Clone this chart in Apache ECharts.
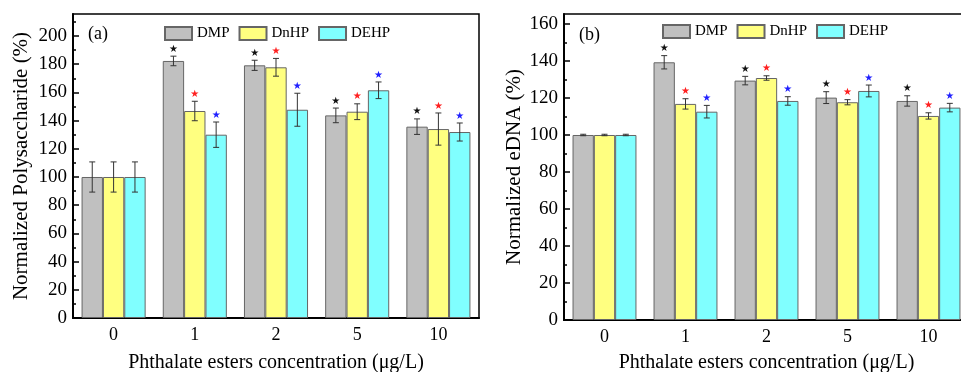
<!DOCTYPE html>
<html>
<head>
<meta charset="utf-8">
<script src="https://cdn.jsdelivr.net/npm/echarts@6/dist/echarts.min.js"></script>
<style>
  html, body { margin: 0; padding: 0; background: #fff; }
  #chart { width: 961px; height: 372px; }
</style>
</head>
<body>
<div id="chart"></div>
<script>
// concentration groups and series
const concentrations = ['0', '1', '2', '5', '10'];
const seriesNames = ['DMP', 'DnHP', 'DEHP'];

// (a) normalized polysaccharide (%)
const polyDMP = [100, 182.3, 179.2, 143.7, 135.7];
const polyDnHP = [100, 146.8, 177.8, 146.3, 134.0];
const polyDEHP = [100, 130.0, 147.7, 161.5, 131.9];
const polyDMPErr = [10.7, 3.4, 3.6, 5.2, 5.5];
const polyDnHPErr = [10.7, 6.9, 6.3, 5.6, 11.4];
const polyDEHPErr = [10.7, 9.0, 11.7, 5.9, 6.4];

// (b) normalized eDNA (%)
const dnaDMP = [100, 139.3, 129.4, 120.2, 118.4];
const dnaDnHP = [100, 116.8, 130.8, 117.7, 110.3];
const dnaDEHP = [100, 112.6, 118.4, 123.8, 114.8];
const dnaDMPErr = [0.4, 3.6, 2.3, 3.2, 2.8];
const dnaDnHPErr = [0.4, 2.8, 1.2, 1.4, 1.7];
const dnaDEHPErr = [0.4, 3.4, 2.3, 3.2, 2.3];

// significance star shown above each group?
const significant = [false, true, true, true, true];

// axis ticks
const polyTicks = [0, 20, 40, 60, 80, 100, 120, 140, 160, 180, 200];
const polyMinor = [10, 30, 50, 70, 90, 110, 130, 150, 170, 190, 210];
const dnaTicks = [0, 20, 40, 60, 80, 100, 120, 140, 160];
const dnaMinor = [10, 30, 50, 70, 90, 110, 130, 150];

const barColors = ['#c0c0c0', '#ffff80', '#80ffff'];
const starColors = ['#111', '#ff2020', '#2020ff'];
const FONT = 'Liberation Serif';

const chart = echarts.init(document.getElementById('chart'));

function errorData(vals, errs) {
  const out = [];
  vals.forEach((v, k) => {
    v.forEach((val, i) => {
      out.push([i, val, errs[k][i], k, significant[i] ? 1 : 0]);
    });
  });
  return out;
}

function renderError(params, api) {
  const ci = api.value(0);
  const val = api.value(1);
  const err = api.value(2);
  const k = api.value(3);
  const sig = api.value(4);
  const band = api.size([1, 0])[0];
  const barW = band * 0.263;
  const x = api.coord([ci, val])[0] + (k - 1) * barW;
  const top = api.coord([ci, val + err])[1];
  const bot = api.coord([ci, val - err])[1];
  const cap = 3;
  const ls = { stroke: '#333', lineWidth: 1 };
  const children = [
    { type: 'line', shape: { x1: x, y1: top, x2: x, y2: bot }, style: ls },
    { type: 'line', shape: { x1: x - cap, y1: top, x2: x + cap, y2: top }, style: ls },
    { type: 'line', shape: { x1: x - cap, y1: bot, x2: x + cap, y2: bot }, style: ls }
  ];
  if (sig) {
    children.push({
      type: 'text',
      style: {
        text: '★', x: x, y: top - 7, align: 'center', verticalAlign: 'middle',
        fill: starColors[k], font: '10px DejaVu Sans'
      }
    });
  }
  return { type: 'group', children: children };
}

function xAxisFor(gridIndex, nameGap) {
  return {
    type: 'category',
    gridIndex: gridIndex,
    data: concentrations,
    name: 'Phthalate esters concentration (μg/L)',
    nameLocation: 'middle',
    nameGap: nameGap,
    nameTextStyle: { fontFamily: FONT, fontSize: 20, color: '#000' },
    axisLine: { lineStyle: { color: '#000', width: 2 } },
    axisTick: { inside: true, alignWithLabel: true, length: 5, lineStyle: { color: '#000', width: 1.5 } },
    axisLabel: { fontFamily: FONT, fontSize: 18, color: '#000', margin: 8 },
    splitLine: { show: false }
  };
}

function yAxesFor(gridIndex, max, ticks, minor, name, nameGap) {
  return [{
    type: 'value',
    gridIndex: gridIndex,
    min: 0,
    max: max,
    name: name,
    nameLocation: 'middle',
    nameGap: nameGap,
    nameTextStyle: { fontFamily: FONT, fontSize: 21, color: '#000' },
    axisLine: { show: true, lineStyle: { color: '#000', width: 2 } },
    axisTick: { show: true, inside: true, length: 6, customValues: ticks, lineStyle: { color: '#000', width: 1.5 } },
    axisLabel: { fontFamily: FONT, fontSize: 19, color: '#000', margin: 6, customValues: ticks },
    splitLine: { show: false }
  }, {
    type: 'value',
    gridIndex: gridIndex,
    min: 0,
    max: max,
    position: 'left',
    axisLine: { show: false },
    axisTick: { show: true, inside: true, length: 3, customValues: minor, lineStyle: { color: '#000', width: 1.5 } },
    axisLabel: { show: false, customValues: minor },
    splitLine: { show: false }
  }];
}

function barSeries(xi, yi, vals) {
  return vals.map((v, k) => ({
    name: seriesNames[k],
    type: 'bar',
    xAxisIndex: xi,
    yAxisIndex: yi,
    data: v,
    barWidth: '26.3%',
    barGap: '0%',
    itemStyle: { color: barColors[k], borderColor: '#666', borderWidth: 1 }
  }));
}

function legendFor(left, top) {
  return {
    data: seriesNames,
    left: left,
    top: top,
    padding: 0,
    icon: 'rect',
    itemWidth: 27,
    itemHeight: 13,
    itemGap: 9,
    textStyle: { fontFamily: FONT, fontSize: 15, color: '#000' },
    selectedMode: false
  };
}

const polyVals = [polyDMP, polyDnHP, polyDEHP];
const polyErrs = [polyDMPErr, polyDnHPErr, polyDEHPErr];
const dnaVals = [dnaDMP, dnaDnHP, dnaDEHP];
const dnaErrs = [dnaDMPErr, dnaDnHPErr, dnaDEHPErr];

const option = {
  animation: false,
  textStyle: { fontFamily: FONT },
  grid: [
    { left: 73, top: 14, width: 406, height: 304, show: true, borderColor: '#000', borderWidth: 1.5, outerBoundsMode: 'none' },
    { left: 564, top: 14, width: 405, height: 306, show: true, borderColor: '#000', borderWidth: 1.5, outerBoundsMode: 'none' }
  ],
  legend: [legendFor(164, 26), legendFor(662, 24)],
  xAxis: [xAxisFor(0, 35), xAxisFor(1, 33)],
  yAxis: [
    ...yAxesFor(0, 215.6, polyTicks, polyMinor, 'Normalized Polysaccharide (%)', 41),
    ...yAxesFor(1, 165.4, dnaTicks, dnaMinor, 'Normalized eDNA (%)', 39)
  ],
  graphic: [
    { type: 'text', left: 88, top: 25, style: { text: '(a)', font: '18px ' + FONT, fill: '#000' } },
    { type: 'text', left: 579, top: 26, style: { text: '(b)', font: '18px ' + FONT, fill: '#000' } }
  ],
  series: [
    ...barSeries(0, 0, polyVals),
    ...barSeries(1, 2, dnaVals),
    {
      type: 'custom',
      xAxisIndex: 0,
      yAxisIndex: 0,
      renderItem: renderError,
      data: errorData(polyVals, polyErrs),
      clip: false,
      z: 10
    },
    {
      type: 'custom',
      xAxisIndex: 1,
      yAxisIndex: 2,
      renderItem: renderError,
      data: errorData(dnaVals, dnaErrs),
      clip: false,
      z: 10
    }
  ]
};

chart.setOption(option);
</script>
</body>
</html>
